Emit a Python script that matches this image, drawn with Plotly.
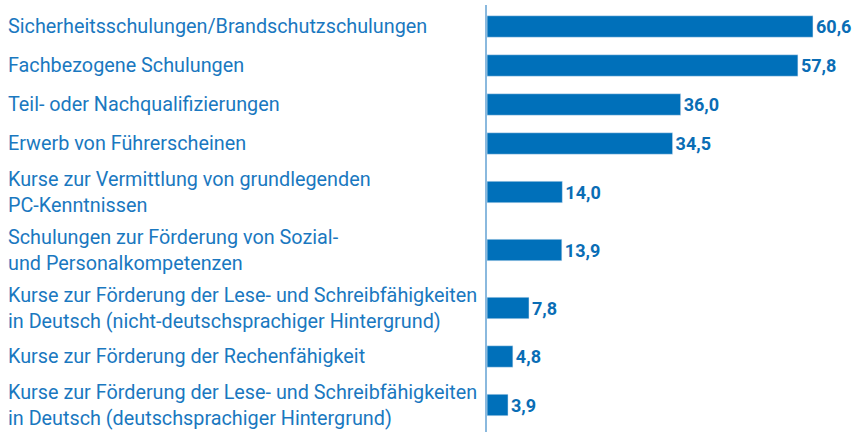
import plotly.graph_objects as go

# Daten
kategorien = [
    "Sicherheitsschulungen/Brandschutzschulungen",
    "Fachbezogene Schulungen",
    "Teil- oder Nachqualifizierungen",
    "Erwerb von Führerscheinen",
    "Kurse zur Vermittlung von grundlegenden<br>PC-Kenntnissen",
    "Schulungen zur Förderung von Sozial-<br>und Personalkompetenzen",
    "Kurse zur Förderung der Lese- und Schreibfähigkeiten<br>in Deutsch (nicht-deutschsprachiger Hintergrund)",
    "Kurse zur Förderung der Rechenfähigkeit",
    "Kurse zur Förderung der Lese- und Schreibfähigkeiten<br>in Deutsch (deutschsprachiger Hintergrund)",
]
werte = [60.6, 57.8, 36.0, 34.5, 14.0, 13.9, 7.8, 4.8, 3.9]

BALKEN = "#0070ba"
TEXT = "#1a78c0"
WERT = "#0a6db5"
ACHSE = "#8ab9de"
SCHRIFT = "Roboto"

# Vertikale Position je Kategorie aus der Zeilenzahl der Beschriftung
hoehen = [20 + 19 * (k.count("<br>") + 1) for k in kategorien]
pos = []
summe = 0
for h in hoehen:
    pos.append(summe + h / 2)
    summe += h

fig = go.Figure()

fig.add_trace(go.Bar(
    x=werte,
    y=pos,
    orientation="h",
    width=21.5,
    marker_color=BALKEN,
    text=[f"{v:.1f}".replace(".", ",") for v in werte],
    texttemplate="<b>%{text}</b>",
    textposition="outside",
    constraintext="none",
    cliponaxis=False,
    textfont=dict(family=SCHRIFT, size=18, color=WERT),
    hoverinfo="skip",
))

for k, y in zip(kategorien, pos):
    fig.add_annotation(
        text=k, x=0, xref="paper", xshift=6, y=y, yref="y",
        xanchor="left", yanchor="middle", align="left", showarrow=False,
        font=dict(family=SCHRIFT, size=19.8, color=TEXT),
    )

fig.update_layout(
    width=856,
    height=436,
    margin=dict(l=0, r=0, t=5, b=4),
    plot_bgcolor="white",
    paper_bgcolor="white",
    showlegend=False,
)

fig.update_xaxes(domain=[0.569, 1], range=[0, 68.6], visible=False)
fig.update_yaxes(
    range=[425, -2],
    showline=True, linecolor=ACHSE, linewidth=2,
    showticklabels=False, showgrid=False, zeroline=False, ticks="",
)

# Standard-Rand des <body> entfernen, damit die Figur genau ins Fenster passt
fig.write_html(
    "out.html",
    config={"displayModeBar": False},
    post_script="document.body.style.margin='0';",
)
